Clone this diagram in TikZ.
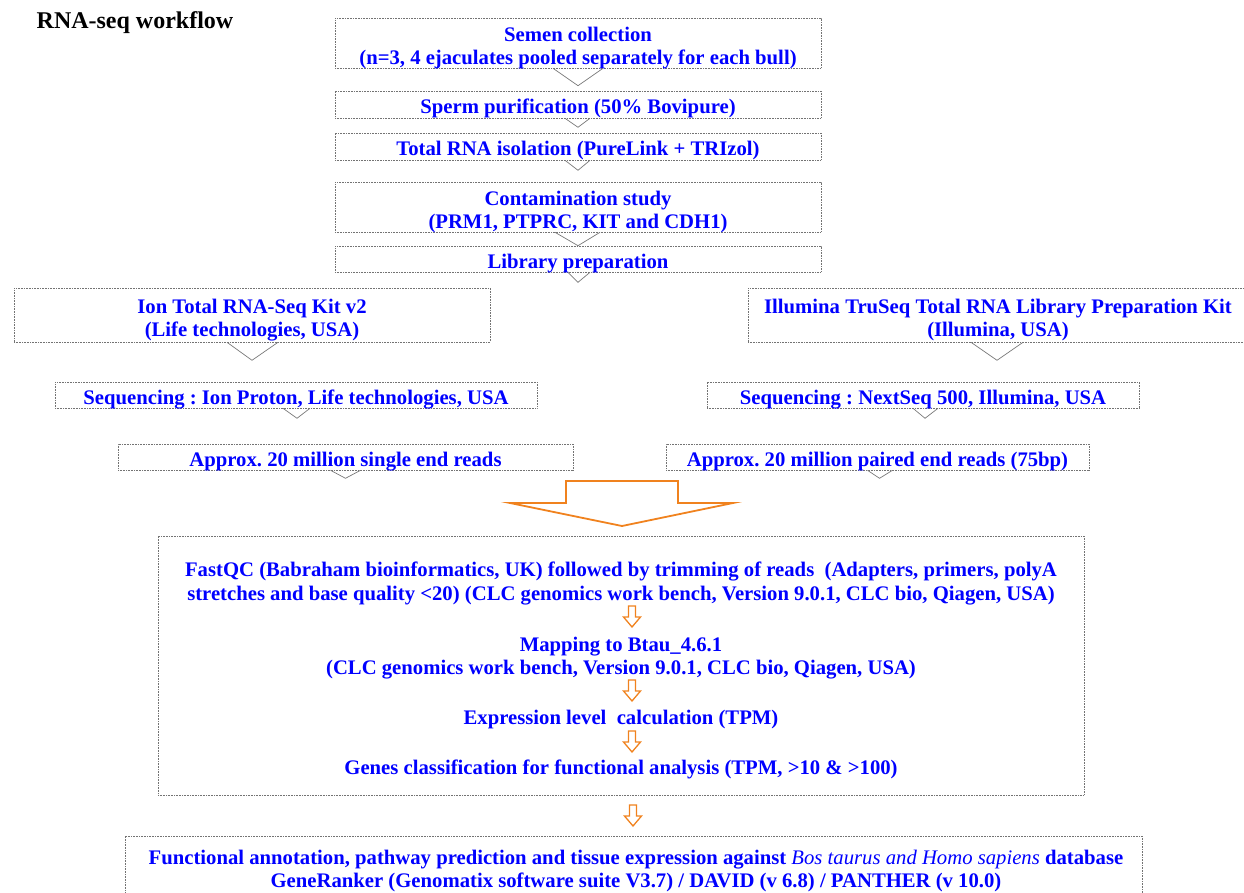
\documentclass[tikz,border=0pt]{standalone}
\usepackage{fontspec}
\setmainfont{Liberation Serif}
\usetikzlibrary{calc}
\definecolor{txtblue}{RGB}{0,0,255}
\definecolor{arrorange}{RGB}{240,130,30}
\definecolor{chevgray}{RGB}{120,120,120}
\tikzset{
  box/.style={draw=gray!90!black, line width=0.6pt, dash pattern=on 0.8pt off 0.8pt, inner sep=0pt},
  plain/.style={inner sep=0pt, align=center, text=txtblue, font=\fontsize{20.7}{23}\selectfont\bfseries},
  plainb/.style={inner sep=0pt, align=center, text=txtblue, font=\fontsize{20.7}{23.7}\selectfont\bfseries},
  chev/.style={draw=chevgray, line width=0.7pt},
  bigarrow/.style={draw=arrorange, line width=1.8pt},
  smallarrow/.pic={\draw[arrorange, line width=1.3pt] (-3.5,0)--(3.5,0)--(3.5,11)--(8.5,11)--(0,21)--(-8.5,11)--(-3.5,11)--cycle;}
}
\begin{document}
\frenchspacing
\begin{tikzpicture}[x=1pt,y=-1pt]
\useasboundingbox (0,0) rectangle (1244,893);
\node[inner sep=0pt, font=\fontsize{24}{26}\selectfont\bfseries] (title) at (135,22.5) {RNA-seq workflow};

% boxes
\node[box, minimum width=486, minimum height=50] (b1) at (578,43) {};
\node[box, minimum width=486, minimum height=27] (b2) at (578,104.5) {};
\node[box, minimum width=486, minimum height=27] (b3) at (578,146.5) {};
\node[box, minimum width=486, minimum height=50] (b4) at (578,207) {};
\node[box, minimum width=486, minimum height=26] (b5) at (578,259) {};
\node[box, minimum width=476, minimum height=54] (l1) at (252,315) {};
\node[box, minimum width=482, minimum height=26] (l2) at (296,395) {};
\node[box, minimum width=455, minimum height=26] (l3) at (345.5,457) {};
\node[box, minimum width=500, minimum height=54] (r1) at (998,315) {};
\node[box, minimum width=432, minimum height=26] (r2) at (923,395) {};
\node[box, minimum width=423, minimum height=26] (r3) at (877.5,457) {};

% texts
\node[plain] (b1t) at (578,48) {Semen collection\\(n=3, 4 ejaculates pooled separately for each bull)};
\node[plain] (b2t) at (578,108.5) {Sperm purification (50\% Bovipure)};
\node[plain] (b3t) at (578,150.5) {Total RNA isolation (PureLink + TRIzol)};
\node[plain] (b4t) at (578,212) {Contamination study\\(PRM1, PTPRC, KIT and CDH1)};
\node[plain] (b5t) at (578,264) {Library preparation};
\node[plain] (l1t) at (252,320) {Ion Total RNA-Seq Kit v2\\(Life technologies, USA)};
\node[plain] (l2t) at (296,399.5) {Sequencing : Ion Proton, Life technologies, USA};
\node[plain] (l3t) at (345.5,462) {Approx. 20 million single end reads};
\node[plain] (r1t) at (998,320) {Illumina TruSeq Total RNA Library Preparation Kit\\(Illumina, USA)};
\node[plain] (r2t) at (923,400) {Sequencing : NextSeq 500, Illumina, USA};
\node[plain] (r3t) at (877.5,462) {Approx. 20 million paired end reads (75bp)};

% chevrons
\draw[chev] ($(b1.south)+(-25,0)$) -- ($(b2.north)+(0,-5)$) -- ($(b1.south)+(25,0)$);
\draw[chev] ($(b2.south)+(-13,0)$) -- ($(b2.south)+(0,9)$) -- ($(b2.south)+(12,0)$);
\draw[chev] ($(b3.south)+(-13,0)$) -- ($(b3.south)+(0,10)$) -- ($(b3.south)+(12,0)$);
\draw[chev] ($(b4.south)+(-23,0)$) -- (b5.north) -- ($(b4.south)+(22,0)$);
\draw[chev] ($(b5.south)+(-10,0)$) -- ($(b5.south)+(0,10)$) -- ($(b5.south)+(12,0)$);
\draw[chev] ($(l1.south)+(-25,0)$) -- ($(l1.south)+(0,18)$) -- ($(l1.south)+(26,0)$);
\draw[chev] ($(l2.south)+(-13,0)$) -- ($(l2.south)+(1,10)$) -- ($(l2.south)+(14,0)$);
\draw[chev] ($(l3.south)+(-15,0)$) -- ($(l3.south)+(0,8)$) -- ($(l3.south)+(15,0)$);
\draw[chev] ($(r1.south)+(-27,0)$) -- ($(r1.south)+(-1,18)$) -- ($(r1.south)+(25,0)$);
\draw[chev] ($(r2.south)+(-10,0)$) -- ($(r2.south)+(2,10)$) -- ($(r2.south)+(15,0)$);
\draw[chev] ($(r3.south)+(-10,0)$) -- ($(r3.south)+(2,8)$) -- ($(r3.south)+(15,0)$);

% big orange arrow
\draw[bigarrow, line join=miter] (566,481) -- (678,481) -- (678,503) -- (733,503) -- (622,526) -- (510,503) -- (566,503) -- cycle;

\node[box, minimum width=926, minimum height=259] (big) at (621,665.5) {};
\node[plainb] (fastqc) at (621,583.5) {FastQC (Babraham bioinformatics, UK) followed by trimming of reads \ (Adapters, primers, polyA\\stretches and base quality <20) (CLC genomics work bench, Version 9.0.1, CLC bio, Qiagen, USA)};
\node[plain] (mapping) at (621,658) {Mapping to Btau\_4.6.1\\(CLC genomics work bench, Version 9.0.1, CLC bio, Qiagen, USA)};
\node[plain] (expr) at (621,720) {Expression level \ calculation (TPM)};
\node[plain] (genes) at (621,769) {Genes classification for functional analysis (TPM, >10 \& >100)};
\pic at (632,606) {smallarrow};
\pic at (632,680) {smallarrow};
\pic at (632,731) {smallarrow};
\pic at (633,805) {smallarrow};

\node[box, minimum width=1017, minimum height=64] (bottom) at (633.5,868) {};
\node[plain] (func) at (636,871.5) {Functional annotation, pathway prediction and tissue expression against {\mdseries\itshape Bos taurus and Homo sapiens} database\\GeneRanker (Genomatix software suite V3.7) / DAVID (v 6.8) / PANTHER (v 10.0)};
\end{tikzpicture}
\end{document}
